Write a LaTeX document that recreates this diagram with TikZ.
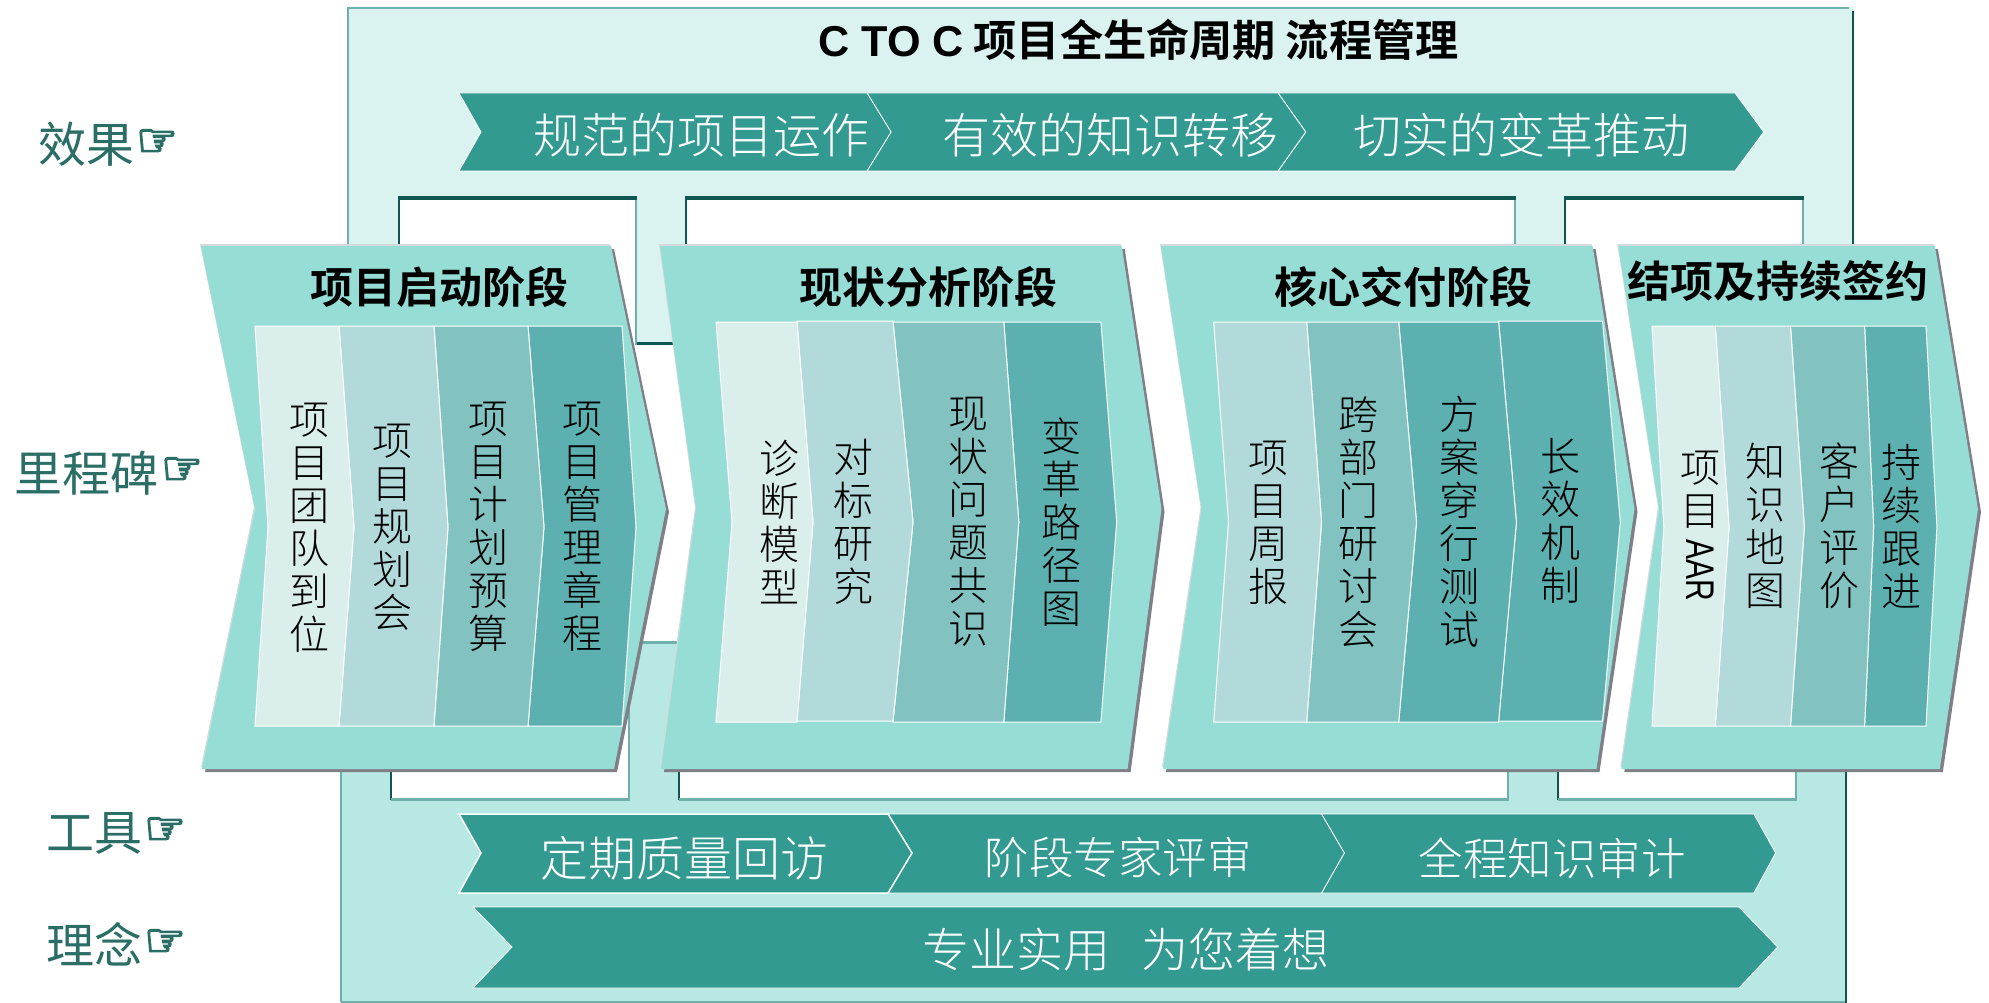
\documentclass[tikz,border=0pt]{standalone}
\usepackage{fontspec}
\usepackage{graphicx}
\setmainfont{Noto Sans CJK SC Light}[BoldFont={Noto Sans CJK SC Bold}]
\newfontfamily\regfont{Noto Sans CJK SC}
\newfontfamily\latfont{Liberation Sans}
\newfontfamily\symfont{DejaVu Sans}[FakeBold=4]
\definecolor{framea}{HTML}{DBF3F0}
\definecolor{frameb}{HTML}{B8E8E3}
\definecolor{edgelight}{HTML}{6FB0AA}
\definecolor{edgedark}{HTML}{0F5550}
\definecolor{band}{HTML}{339A92}
\definecolor{stage}{HTML}{95DDD5}
\definecolor{stageshadow}{HTML}{7F7F88}
\definecolor{stagehi}{HTML}{D5DADF}
\definecolor{sega}{HTML}{DAEEEB}
\definecolor{segb}{HTML}{B2DADA}
\definecolor{segc}{HTML}{82C3C1}
\definecolor{segd}{HTML}{5CB0AF}
\definecolor{labelc}{HTML}{2A6E66}
\newcommand{\StageShape}[6]{%
  \fill[stagehi,shift={(-1,-2)}] (#1,246)--(#2,246)--(#3,509)--(#4,769)--(#5,769)--(#6,509)--cycle;
  \fill[stageshadow,shift={(3,3)}] (#1,246)--(#2,246)--(#3,509)--(#4,769)--(#5,769)--(#6,509)--cycle;
  \fill[stage] (#1,246)--(#2,246)--(#3,509)--(#4,769)--(#5,769)--(#6,509)--cycle;}
% colour, x-left, x-right, notch, tip, top, mid, bottom
\newcommand{\SegShape}[8]{%
  \filldraw[fill=#1,draw=white,line width=1pt,line join=miter] (#2,#6)--(#3,#6)--(#5,#7)--(#3,#8)--(#2,#8)--(#4,#7)--cycle;}
\newcommand{\BandSeg}[8]{%
  \filldraw[fill=band,draw=white,line width=#8,line join=miter] (#1,#4)--(#2,#4)--(#3,#5)--(#2,#6)--(#1,#6)--(#7,#5)--cycle;}
\newcommand{\TopWin}[2]{%
  \fill[white] (#1,197) rectangle (#2,345);
  \draw[edgelight,line width=2pt] (#2,197)--(#2,345);
  \draw[edgedark,line width=2pt] (#1,197)--(#1,345);
  \draw[edgedark,line width=3.5pt] (#1-1,198)--(#2+1,198);}
\newcommand{\LowWin}[2]{%
  \fill[white] (#1,640) rectangle (#2,799);
  \draw[edgelight,line width=2pt] (#2,640)--(#2,800);
  \draw[edgedark,line width=1.5pt] (#1,640)--(#1,800);
  \draw[edgelight,line width=3pt] (#1,799)--(#2+1,799);}
\tikzset{
  x=1pt,y=-1pt,
  vtext/.style={align=center,inner sep=0pt,text=black,font=\fontsize{40}{43}\selectfont},
  bandtext/.style={inner sep=0pt,text=white,font=\fontsize{48}{48}\selectfont},
  headtext/.style={inner sep=0pt,text=black,font=\bfseries\fontsize{43}{43}\selectfont},
  sidetext/.style={inner sep=0pt,anchor=west,text=labelc,font=\regfont\fontsize{48}{48}\selectfont},
  handtext/.style={inner sep=0pt,text=labelc,font=\symfont\fontsize{46}{46}\selectfont},
}
\begin{document}
\begin{tikzpicture}
\useasboundingbox (0,0) rectangle (1989,1003);
\fill[white] (0,0) rectangle (1989,1003);
% upper frame
\fill[framea] (348,7) rectangle (1853,343);
\draw[edgelight,line width=2.5pt] (347,8)--(1849,8);
\draw[edgelight,line width=2pt] (348,7)--(348,343);
\draw[edgedark,line width=2.5pt] (1853,11)--(1853,343);
\draw[edgedark,line width=3pt] (636,343)--(686,343);
\TopWin{399}{636}
\TopWin{686}{1514.5}
\TopWin{1565}{1802.5}
% lower frame
\fill[frameb] (341,642) rectangle (1846,1002);
\draw[edgelight,line width=2pt] (341,642)--(341,1002);
\draw[edgelight,line width=2pt] (341,1002)--(1846,1002);
\draw[edgedark,line width=2pt] (1846,642)--(1846,1003);
\draw[edgelight,line width=3pt] (629,642)--(679,642);
\LowWin{391}{629}
\LowWin{679}{1507.5}
\LowWin{1558}{1795.5}
% effect band
\BandSeg{1278}{1735}{1763.7}{93}{132}{171}{1305.7}{0.8pt}
\BandSeg{867}{1278}{1305.7}{93}{132}{171}{891}{0.8pt}
\BandSeg{459}{867}{891}{93}{132}{171}{481}{0.8pt}
% tools band
\BandSeg{1321.5}{1753.8}{1775.6}{814}{853}{893}{1344.3}{0.8pt}
\BandSeg{888}{1321.5}{1344.3}{814}{853}{893}{912}{0.8pt}
\BandSeg{459}{888}{912}{814}{853}{893}{481}{1.5pt}
% idea band
\BandSeg{473}{1739}{1777.6}{907}{947}{988}{512}{0.8pt}
% stages
\StageShape{201}{611}{666}{614}{202}{255}
\StageShape{660}{1121.7}{1161.5}{1127.6}{661}{696}
\StageShape{1161}{1592.6}{1634.5}{1596.5}{1163}{1201.5}
\StageShape{1618.3}{1934.9}{1978}{1939.8}{1621.3}{1658.9}
% stage 1 segments
\SegShape{segd}{528}{622}{544}{636}{326}{527}{726}
\SegShape{segc}{434}{528}{448}{544}{326}{527}{726}
\SegShape{segb}{339}{434}{354}{448}{326}{527}{726}
\SegShape{sega}{255}{339}{268}{354}{326}{527}{726}
% stage 2 segments
\SegShape{segd}{1003.8}{1100.9}{1018.8}{1116.7}{322}{522}{722}
\SegShape{segc}{893}{1003.8}{913}{1018.8}{322}{522}{722}
\SegShape{segb}{797}{893}{813}{913}{321}{522}{721}
\SegShape{sega}{716}{797}{732}{813}{322}{522}{722}
% stage 3 segments
\SegShape{segd}{1498.6}{1602.5}{1516.4}{1620.3}{321}{522}{721}
\SegShape{segd}{1398.7}{1498.6}{1416.5}{1516.4}{322}{522}{722}
\SegShape{segc}{1306.7}{1398.7}{1321.5}{1416.5}{322}{522}{722}
\SegShape{segb}{1213.7}{1306.7}{1228.5}{1321.5}{322}{522}{722}
% stage 4 segments
\SegShape{segd}{1864.6}{1926}{1873.6}{1936.9}{326}{527}{726}
\SegShape{segc}{1790.5}{1864.6}{1804.3}{1873.6}{326}{527}{726}
\SegShape{segb}{1715.3}{1790.5}{1729}{1804.3}{326}{527}{726}
\SegShape{sega}{1652}{1715.3}{1663.8}{1729}{326}{527}{726}
% title
\node[inner sep=0pt,text=black,font=\bfseries\fontsize{43.2}{44}\selectfont] (title) at (1138.5,40) {{\latfont\bfseries C TO C} 项目全生命周期 流程管理};
% band texts
\node[bandtext] (e1) at (701,135) {规范的项目运作};
\node[bandtext] (e2) at (1110,135) {有效的知识转移};
\node[bandtext] (e3) at (1521,135) {切实的变革推动};
\node[bandtext] (t1) at (684,858) {定期质量回访};
\node[bandtext,font=\fontsize{44.5}{45}\selectfont] (t2) at (1118,858) {阶段专家评审};
\node[bandtext,font=\fontsize{44.5}{45}\selectfont] (t3) at (1552,858) {全程知识审计};
\node[bandtext,font=\fontsize{47}{47}\selectfont] (i1) at (1126,950) {专业实用\hspace{32pt}为您着想};
% side labels
\node[sidetext] (s1) at (38,144) {效果};
\node[handtext] (h1) at (157,143) {☞};
\node[sidetext] (s2) at (14,473) {里程碑};
\node[handtext] (h2) at (182,471) {☞};
\node[sidetext] (s3) at (46,833) {工具};
\node[handtext] (h3) at (165,831) {☞};
\node[sidetext] (s4) at (46,944) {理念};
\node[handtext] (h4) at (165,943) {☞};
% stage headers
\node[headtext] (g1) at (439,287) {项目启动阶段};
\node[headtext] (g2) at (928,287) {现状分析阶段};
\node[headtext] (g3) at (1403,287) {核心交付阶段};
\node[headtext] (g4) at (1778,281) {结项及持续签约};
% stage 1 items
\node[vtext] (a1) at (309,528) {项\\目\\团\\队\\到\\位};
\node[vtext] (a2) at (392,527) {项\\目\\规\\划\\会};
\node[vtext] (a3) at (488,527) {项\\目\\计\\划\\预\\算};
\node[vtext] (a4) at (582,527) {项\\目\\管\\理\\章\\程};
% stage 2 items
\node[vtext] (b1) at (779,522) {诊\\断\\模\\型};
\node[vtext] (b2) at (853,522) {对\\标\\研\\究};
\node[vtext] (b3) at (968,522) {现\\状\\问\\题\\共\\识};
\node[vtext] (b4) at (1061,522) {变\\革\\路\\径\\图};
% stage 3 items
\node[vtext] (c1) at (1268,523) {项\\目\\周\\报};
\node[vtext] (c2) at (1358,522) {跨\\部\\门\\研\\讨\\会};
\node[vtext] (c3) at (1459,522) {方\\案\\穿\\行\\测\\试};
\node[vtext] (c4) at (1560,521) {长\\效\\机\\制};
% stage 4 items
\node[vtext,anchor=north] (d1) at (1700,451) {项\\目\\\raisebox{29pt}{\rotatebox{-90}{\latfont\scalebox{0.75}[1]{\fontsize{40}{40}\selectfont AAR}}}};
\node[vtext] (d2) at (1765,526) {知\\识\\地\\图};
\node[vtext] (d3) at (1839,526) {客\\户\\评\\价};
\node[vtext] (d4) at (1901,526) {持\\续\\跟\\进};
\end{tikzpicture}
\end{document}
